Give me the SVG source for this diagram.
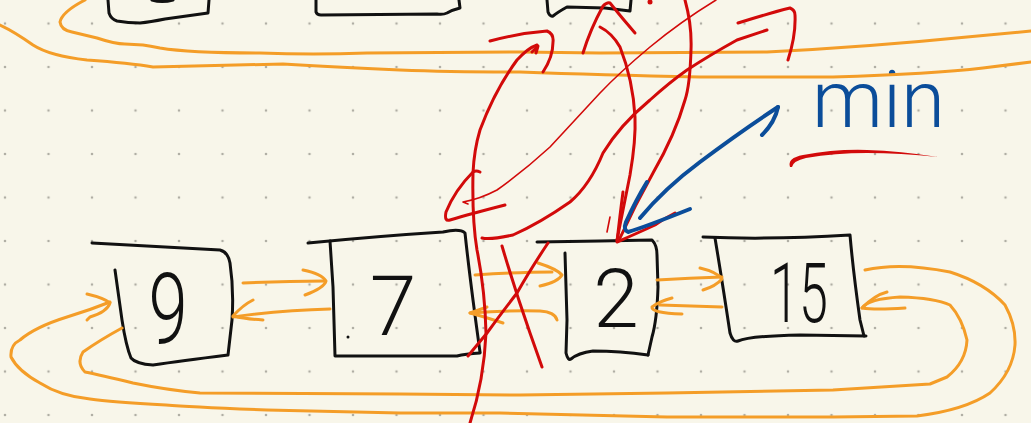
<svg xmlns="http://www.w3.org/2000/svg" width="1031" height="423" viewBox="0 0 1031 423">
<style>
.k{fill:none;stroke:#111;stroke-width:3;stroke-linecap:round;stroke-linejoin:round}
.o{fill:none;stroke:#f49d28;stroke-width:3;stroke-linecap:round;stroke-linejoin:round}
.r{fill:none;stroke:#d20a0a;stroke-width:3;stroke-linecap:round;stroke-linejoin:round}
.rt{fill:none;stroke:#d20a0a;stroke-width:1.6;stroke-linecap:round;stroke-linejoin:round}
.b{fill:none;stroke:#0b4d9a;stroke-width:4;stroke-linecap:round;stroke-linejoin:round}
.num{font-family:Roboto,"Liberation Sans",sans-serif;font-weight:300;fill:#111;text-anchor:middle}
.lbl{font-family:Roboto,"Liberation Sans",sans-serif;font-weight:300;fill:#0b4d9a}
</style>
<defs>
<pattern id="dots" patternUnits="userSpaceOnUse" x="-16.75" y="1.75" width="43.5" height="43.5">
<circle cx="21.75" cy="21.75" r="1.3" fill="#b0aea4"/>
</pattern>
</defs>
<rect width="1031" height="423" fill="#f8f6ea"/>
<rect width="1031" height="423" fill="url(#dots)"/>

<g id="node-top-a"><path class="k" d="M108,0 L109,13 Q111,19 117,21 Q128,23 140,23 Q150,22 165,19 L208,13 L209,0"/><path class="k" d="M152,0 Q162,3 173,0"/></g>
<g id="node-top-b"><path class="k" d="M316,0 L316,12 Q317,15 321,15 L437,14 Q443,15 447,13 Q452,10 460,8 L459,0"/></g>
<g id="node-top-c"><path class="k" d="M547,0 L548,12 Q550,17 553,16 Q558,12 567,7 L605,8 L630,11 L631,0"/></g>

<g id="node-9"><path class="k" d="M92,243 Q150,246 220,250 Q228,252 230,263 Q234,290 232,320 L228,355 Q180,361 153,365 Q136,364 131,358 Q126,346 122,320 L115,270"/>
<text class="num" transform="translate(168,343) scale(0.72,1)" font-size="98">9</text></g>
<g id="node-7"><path class="k" d="M308,243 Q380,236 443,232 Q460,228 465,233 Q470,280 480,352"/><path class="k" d="M330,241 L333,287 L335,356 L457,356 Q465,354 480,353"/>
<text class="num" x="393" y="335" font-size="84">7</text><circle cx="348" cy="337" r="1.5" fill="#111"/></g>
<g id="node-2"><path class="k" d="M537,242 L600,241 L652,240 Q657,245 657,255 L658,287 Q657,320 652,337 L648,355"/><path class="k" d="M565,253 L567,320 L566,353 Q568,361 571,359 Q578,353 593,351 Q620,351 648,355"/>
<text class="num" x="616" y="327" font-size="82">2</text></g>
<g id="node-15"><path class="k" d="M703,237 Q770,240 850,235 Q853,270 860,320 L864,336"/><path class="k" d="M715,238 Q722,280 730,333 Q733,343 738,341 Q750,336 800,335 L866,336"/>
<text class="num" transform="translate(799,322) scale(0.62,1)" font-size="84">15</text></g>
<g id="label-min"><text class="lbl" x="812" y="127" font-size="80">min</text>
<path d="M790,167 Q787,158 803,155 Q835,149 867,150 Q900,151 938,157 Q900,153 867,153 Q835,153 806,158 Q793,161 792,167 Z" fill="#d20a0a"/></g>

<g id="connectors">
<path class="o" d="M0,25 Q15,32 33,45 Q50,56 87,60 Q130,63 153,67 Q200,66 283,64 Q333,67 400,70 Q450,72 520,72 Q600,75 700,77 L833,77 Q933,74 983,68 L1031,62"/>
<path class="o" d="M85,0 Q62,12 60,22 Q61,30 72,32 L97,38 Q115,44 125,44 L143,45 Q150,46 160,48 Q190,53 260,53 Q313,55 367,53 L520,52 L600,53 L767,52 Q867,47 967,37 L1031,31"/>
<path class="o" d="M243,283 Q285,281 325,281"/><path class="o" d="M303,270 Q322,274 326,281 Q324,288 305,295"/>
<path class="o" d="M330,309 Q283,310 233,317"/><path class="o" d="M253,300 Q243,305 233,316 Q245,319 263,320"/>
<path class="o" d="M475,275 Q520,272 552,272"/><path class="o" d="M538,263 Q557,269 562,275 Q558,282 540,286"/>
<path class="o" d="M557,320 Q555,312 540,311 Q510,310 470,313"/><path class="o" d="M487,307 L470,313 Q485,317 503,323"/>
<path class="o" d="M657,280 Q690,278 722,277"/><path class="o" d="M700,268 Q717,272 722,279 Q716,286 703,290"/>
<path class="o" d="M722,307 Q690,306 660,305"/><path class="o" d="M672,298 Q660,301 652,307 Q651,313 682,314"/>
<path class="o" d="M865,270 Q900,262 950,272 Q985,283 1005,305 Q1016,325 1015,345 Q1013,372 990,393 Q965,410 917,416 L833,417 L667,417 L500,413 L400,413 Q300,411 267,410 Q190,407 166,405 Q110,402 90,399 Q60,396 40,383 Q18,371 11,357 Q10,345 20,340 Q35,327 67,317 Q90,310 110,302"/>
<path class="o" d="M87,294 Q104,298 110,303 Q107,312 90,317 L87,320"/>
<path class="o" d="M862,308 Q868,299 900,297 Q935,298 950,305 Q962,318 967,340 Q966,362 947,377 L930,384 L833,390 L667,393 L520,395 L400,394 L200,393 Q167,390 133,383 Q100,375 85,372 Q76,363 83,352 Q100,340 122,328"/>
<path class="o" d="M887,292 Q875,295 862,308 Q875,310 905,308"/>

<path class="r" d="M470,423 Q484,380 486,333 Q485,290 477,250 Q472,220 473,173 Q474,150 480,130 Q495,90 517,60 Q528,48 537,45"/>
<path class="r" d="M532,52 L538,46 L536,53"/>
<path class="r" d="M490,41 Q520,33 547,31 Q554,34 553,42 Q553,57 543,72"/>
<path class="r" d="M617,240 Q624,205 630,175 Q636,140 635,117 Q633,80 620,47 Q612,33 600,27"/>
<path class="r" d="M583,53 Q590,30 603,6 Q607,2 610,3 Q622,18 635,33"/>
<path class="rt" d="M716,0 Q680,22 650,47 Q620,72 600,93 L550,147 Q525,170 497,190 Q480,199 463,202 L468,204"/>
<path class="r" d="M480,172 Q476,170 473,172 Q455,190 446,212 Q444,222 450,220 Q470,214 505,205"/>
<path class="r" d="M482,238 Q490,240 513,235 Q540,223 570,202 Q590,185 603,153 Q620,125 650,100 Q670,82 687,70 Q710,55 737,40 L767,30"/>
<path class="r" d="M738,23 Q770,13 790,8 Q795,10 795,15 Q796,35 788,60"/>
<path class="r" d="M685,0 Q692,25 691,50 Q690,85 685,100 Q675,135 653,173 Q635,205 620,238"/>
<path class="r" d="M623,192 Q620,215 617,242 Q640,232 655,225 Q665,218 675,213"/>
<path class="rt" d="M610,217 L607,232"/>
<path class="r" d="M502,246 Q515,290 530,333 L542,367"/>
<path class="r" d="M548,243 Q530,270 517,293 Q500,315 487,333 L468,356"/>
<circle cx="650" cy="2" r="2.5" fill="#d20a0a"/>

<path class="b" d="M640,218 Q665,188 700,162 Q740,132 778,107"/>
<path class="b" d="M778,107 Q775,122 762,135"/>
<path class="b" d="M647,182 Q636,200 626,222 Q623,230 628,232 Q645,227 690,209"/>
</g>
</svg>
